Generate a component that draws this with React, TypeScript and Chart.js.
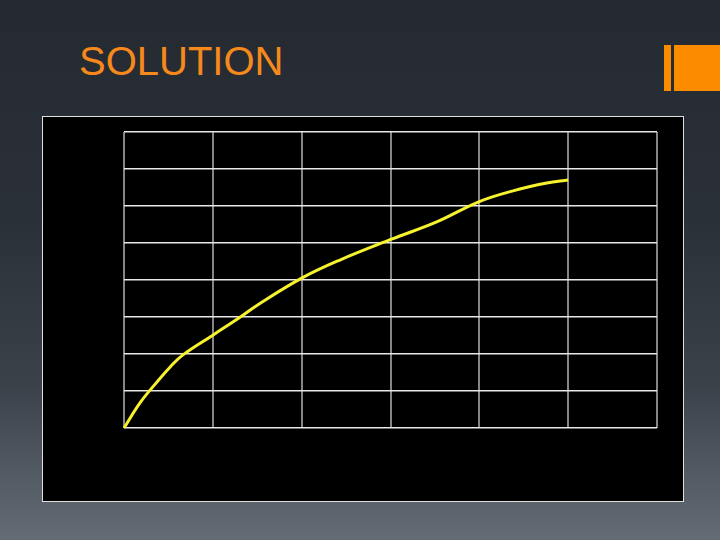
import React, { useEffect, useRef } from 'react';
import { Chart, registerables } from 'chart.js';

Chart.register(...registerables);

// curve, x in grid columns, y in grid rows
const xValues = [0, 0.18, 0.37, 0.52, 0.66, 1.0, 1.31, 1.5, 2.0, 2.43, 3.02, 3.52, 4.0, 4.38, 4.76, 5.0];
const yValues = [0, 0.68, 1.24, 1.65, 1.97, 2.51, 3.0, 3.32, 4.05, 4.54, 5.11, 5.57, 6.12, 6.41, 6.62, 6.7];
const xTicks = [0, 1, 2, 3, 4, 5, 6];
const yTicks = [0, 1, 2, 3, 4, 5, 6, 7, 8];

const SolutionChart: React.FC = () => {
  const canvasRef = useRef<HTMLCanvasElement>(null);
  const chartRef = useRef<Chart | null>(null);

  useEffect(() => {
    if (!canvasRef.current) return;
    chartRef.current?.destroy();

    chartRef.current = new Chart(canvasRef.current, {
      type: 'line',
      data: {
        datasets: [
          {
            data: xValues.map((x, i) => ({ x, y: yValues[i] })),
            borderColor: '#f6f22c',
            borderWidth: 3,
            pointRadius: 0,
            tension: 0.4,
            fill: false,
            clip: false,
          },
        ],
      },
      options: {
        responsive: false,
        animation: false,
        layout: { padding: { left: 81, right: 26, top: 15, bottom: 73 } },
        plugins: { legend: { display: false }, tooltip: { enabled: false } },
        scales: {
          x: {
            type: 'linear',
            min: xTicks[0],
            max: xTicks[xTicks.length - 1],
            afterBuildTicks: (axis) => {
              axis.ticks = xTicks.map((v) => ({ value: v }));
            },
            ticks: { display: false },
            grid: { color: '#858585', lineWidth: 2, drawTicks: false },
            border: { display: false },
          },
          y: {
            type: 'linear',
            min: yTicks[0],
            max: yTicks[yTicks.length - 1],
            afterBuildTicks: (axis) => {
              axis.ticks = yTicks.map((v) => ({ value: v }));
            },
            ticks: { display: false },
            grid: { color: '#e8e8e8', lineWidth: 1.5, drawTicks: false },
            border: { display: false },
          },
        },
      },
    });

    return () => {
      chartRef.current?.destroy();
      chartRef.current = null;
    };
  }, []);

  return <canvas ref={canvasRef} width={640} height={384} style={{ display: 'block' }} />;
};

export default function App() {
  return (
    <div
      style={{
        position: 'fixed',
        left: 0,
        top: 0,
        width: 720,
        height: 540,
        overflow: 'hidden',
        background: 'linear-gradient(180deg, #252a31 0%, #2a3038 40%, #3b424a 72%, #646c75 100%)',
        fontFamily: 'Arial, "Liberation Sans", sans-serif',
      }}
    >
      <div
        style={{
          position: 'absolute',
          left: 79,
          top: 38,
          fontSize: 40,
          lineHeight: '46px',
          color: '#f7891c',
        }}
      >
        SOLUTION
      </div>
      <div style={{ position: 'absolute', left: 664, top: 45, width: 7, height: 46, background: '#fb8c00' }} />
      <div style={{ position: 'absolute', left: 674, top: 45, width: 46, height: 46, background: '#fb8c00' }} />
      <div
        style={{
          position: 'absolute',
          left: 42,
          top: 116,
          width: 640,
          height: 384,
          background: '#000',
          border: '1px solid #e0e0e0',
        }}
      >
        <SolutionChart />
      </div>
    </div>
  );
}
